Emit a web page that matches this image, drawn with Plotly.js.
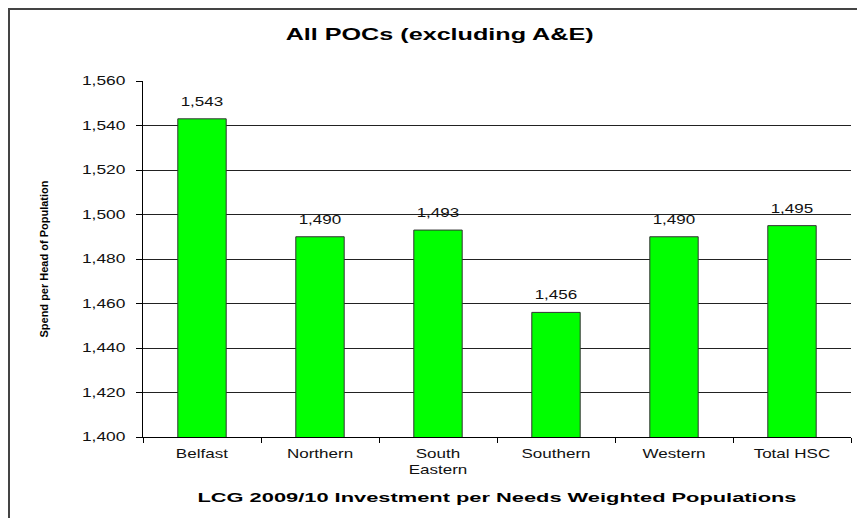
<!DOCTYPE html>
<html>
<head>
<meta charset="utf-8">
<script src="https://cdn.plot.ly/plotly-3.0.1.min.js"></script>
<style>
html,body{margin:0;padding:0;background:#fff;}
#wrap{position:relative;width:857px;height:518px;}
#chart{width:857px;height:518px;}
#frame{position:absolute;left:8px;top:8px;width:849px;height:510px;border-left:2px solid #444;border-top:2px solid #444;pointer-events:none;}
</style>
</head>
<body>
<div id="wrap"><div id="chart"></div><div id="frame"></div></div>
<script>
const categories = ["Belfast", "Northern", "South<br>Eastern", "Southern", "Western", "Total HSC"];
const values = [1543, 1490, 1493, 1456, 1490, 1495];
const labels = ["1,543", "1,490", "1,493", "1,456", "1,490", "1,495"];
const yTicks = [1400, 1420, 1440, 1460, 1480, 1500, 1520, 1540, 1560];
const yTickText = ["1,400", "1,420", "1,440", "1,460", "1,480", "1,500", "1,520", "1,540", "1,560"];

const font = "Liberation Sans, Arial, sans-serif";

const annotations = categories.map((c, i) => ({
  x: c, y: values[i], xref: "x", yref: "y",
  text: labels[i], showarrow: false,
  yanchor: "bottom", yshift: 8,
  font: {family: font, size: 12, color: "#111"}
}));

// horizontally stretch text to mimic the reference's wide lettering
function stretch(selector, s) {
  document.querySelectorAll(selector).forEach(t => {
    const bb = t.getBBox();
    const anchor = t.getAttribute("text-anchor") || "start";
    let ax = bb.x;
    if (anchor === "middle") ax = bb.x + bb.width / 2;
    else if (anchor === "end") ax = bb.x + bb.width;
    const prev = t.getAttribute("transform") || "";
    t.setAttribute("transform", prev + " translate(" + ax + ",0) scale(" + s + ",1) translate(" + (-ax) + ",0)");
  });
}

Plotly.newPlot("chart", [{
  type: "bar",
  x: categories,
  y: values,
  marker: {color: "#00ff00", line: {color: "#333", width: 1}},
  hoverinfo: "none"
}], {
  width: 857, height: 518,
  margin: {l: 143, r: 6, t: 81, b: 81},
  paper_bgcolor: "#fff",
  plot_bgcolor: "#fff",
  bargap: 0.59,
  showlegend: false,
  annotations: annotations,
  title: {text: "<b>All POCs (excluding A&E)</b>", x: 0.513, xanchor: "center", y: 0.935, yanchor: "middle",
          font: {family: font, size: 17, color: "#000"}},
  xaxis: {
    type: "category",
    showline: true, linecolor: "#000", linewidth: 1,
    ticks: "outside", tickson: "boundaries", ticklen: 5, tickcolor: "#000",
    ticklabelstandoff: 6,
    tickfont: {family: font, size: 12, color: "#111"},
    title: {text: "<b>LCG 2009/10 Investment per Needs Weighted Populations</b>", standoff: 16,
            font: {family: font, size: 13, color: "#000"}},
    showgrid: false
  },
  yaxis: {
    range: [1400, 1560],
    tickvals: yTicks, ticktext: yTickText,
    showline: true, linecolor: "#000", linewidth: 1,
    ticks: "outside", ticklen: 6, tickcolor: "#000",
    ticklabelstandoff: 8,
    tickfont: {family: font, size: 12, color: "#111"},
    showgrid: true, gridcolor: "#222", gridwidth: 1,
    zeroline: false,
    title: {text: "<b>Spend per Head of Population</b>", standoff: 44,
            font: {family: font, size: 11, color: "#000"}}
  }
}, {staticPlot: true}).then(() => {
  stretch("#chart .xtick text", 1.42);
  stretch("#chart .ytick text", 1.45);
  stretch("#chart .annotation-text", 1.42);
  stretch("#chart .gtitle", 1.48);
  stretch("#chart .xtitle", 1.68);
});
</script>
</body>
</html>
